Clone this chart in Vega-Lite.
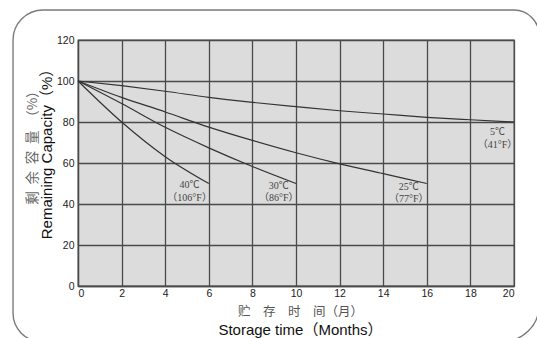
{
  "$schema": "https://vega.github.io/schema/vega-lite/v6.json",
  "width": 436,
  "height": 246,
  "autosize": {"type": "none"},
  "padding": {"left": 78, "top": 40, "right": 23, "bottom": 52},
  "background": "#ffffff",
  "config": {
    "view": {"fill": "#dcdcdc", "stroke": "#555555", "strokeWidth": 1.3},
    "axis": {"gridColor": "#4a4a4a", "gridWidth": 1.3, "gridOpacity": 1, "domainColor": "#4a4a4a", "domainWidth": 1.3, "tickSize": 0, "labelFont": "Liberation Sans", "labelFontSize": 10.5, "labelColor": "#222222", "titleFontWeight": "normal"}
  },
  "datasets": {
    "frame": [{"name": "frame"}],
    "curves": [
      {"series": "5℃", "month": 0, "capacity": 100},
      {"series": "5℃", "month": 2, "capacity": 97.7},
      {"series": "5℃", "month": 4, "capacity": 95.0},
      {"series": "5℃", "month": 6, "capacity": 92.0},
      {"series": "5℃", "month": 8, "capacity": 89.6},
      {"series": "5℃", "month": 10, "capacity": 87.5},
      {"series": "5℃", "month": 12, "capacity": 85.5},
      {"series": "5℃", "month": 14, "capacity": 83.9},
      {"series": "5℃", "month": 16, "capacity": 82.3},
      {"series": "5℃", "month": 18, "capacity": 81.1},
      {"series": "5℃", "month": 20, "capacity": 80.0},
      {"series": "25℃", "month": 0, "capacity": 100},
      {"series": "25℃", "month": 2, "capacity": 92.0},
      {"series": "25℃", "month": 4, "capacity": 84.9},
      {"series": "25℃", "month": 6, "capacity": 77.5},
      {"series": "25℃", "month": 8, "capacity": 71.0},
      {"series": "25℃", "month": 10, "capacity": 65.0},
      {"series": "25℃", "month": 12, "capacity": 59.6},
      {"series": "25℃", "month": 14, "capacity": 54.8},
      {"series": "25℃", "month": 16, "capacity": 50.0},
      {"series": "30℃", "month": 0, "capacity": 100},
      {"series": "30℃", "month": 2, "capacity": 89.0},
      {"series": "30℃", "month": 4, "capacity": 77.4},
      {"series": "30℃", "month": 6, "capacity": 67.4},
      {"series": "30℃", "month": 8, "capacity": 58.3},
      {"series": "30℃", "month": 10, "capacity": 50.0},
      {"series": "40℃", "month": 0, "capacity": 100},
      {"series": "40℃", "month": 2, "capacity": 80.0},
      {"series": "40℃", "month": 4, "capacity": 63.1},
      {"series": "40℃", "month": 6, "capacity": 50.0}
    ],
    "labels": [
      {"series": "40℃", "text": "40℃\n（106°F）", "month": 5.12, "capacity": 49.1},
      {"series": "30℃", "text": "30℃\n（86°F）", "month": 9.21, "capacity": 49.0},
      {"series": "25℃", "text": "25℃\n（77°F）", "month": 15.17, "capacity": 48.4},
      {"series": "5℃", "text": "5℃\n（41°F）", "month": 19.24, "capacity": 75.0}
    ]
  },
  "layer": [
    {
      "data": {"name": "frame"},
      "mark": {"type": "rect", "fill": "transparent", "stroke": "#7a7a7a", "strokeWidth": 1.4, "cornerRadiusTopLeft": 30, "cornerRadiusTopRight": 25, "cornerRadiusBottomRight": 36, "cornerRadiusBottomLeft": 28, "clip": false},
      "encoding": {
        "x": {"datum": -2.98, "type": "quantitative", "scale": {"domain": [0, 20], "nice": false}, "axis": null},
        "x2": {"datum": 21.15},
        "y": {"datum": 134.6, "type": "quantitative", "scale": {"domain": [0, 120], "nice": false}, "axis": null},
        "y2": {"datum": -27}
      }
    },
    {
      "data": {"name": "curves"},
      "mark": {"type": "line", "interpolate": "monotone", "color": "#333333", "strokeWidth": 1.2},
      "encoding": {
        "x": {
          "field": "month", "type": "quantitative",
          "scale": {"domain": [0, 20], "nice": false},
          "axis": {"values": [0, 2, 4, 6, 8, 10, 12, 14, 16, 18, 20], "orient": "bottom", "grid": true, "labelPadding": 2,
            "title": "贮\u2003存\u2003时\u2003间（月）", "titleFont": "Noto Sans CJK SC", "titleFontSize": 12.5, "titleColor": "#555555", "titlePadding": 7, "titleX": 222}
        },
        "y": {
          "field": "capacity", "type": "quantitative",
          "scale": {"domain": [0, 120], "nice": false},
          "axis": {"values": [0, 20, 40, 60, 80, 100, 120], "orient": "left", "grid": true, "labelPadding": 4,
            "title": "Remaining Capacity（%）", "titleFont": "Liberation Sans, Noto Sans CJK SC", "titleFontSize": 15, "titleColor": "#111111", "titlePadding": 2, "titleY": 110}
        },
        "detail": {"field": "series"}
      }
    },
    {
      "data": {"name": "labels"},
      "mark": {"type": "text", "lineBreak": "\n", "align": "center", "baseline": "middle", "font": "Liberation Serif, Noto Sans CJK SC", "fontSize": 10, "lineHeight": 12.5, "color": "#444444"},
      "encoding": {
        "x": {
          "field": "month", "type": "quantitative",
          "scale": {"domain": [0, 20], "nice": false},
          "axis": {"orient": "bottom", "labels": false, "ticks": false, "domain": false, "grid": false,
            "title": "Storage time（Months）", "titleFont": "Liberation Sans, Noto Sans CJK SC", "titleFontSize": 15, "titleColor": "#111111", "titlePadding": 36, "titleX": 222}
        },
        "y": {
          "field": "capacity", "type": "quantitative",
          "scale": {"domain": [0, 120], "nice": false},
          "axis": {"orient": "left", "labels": false, "ticks": false, "domain": false, "grid": false,
            "title": "剩\u2002余\u2002容\u2002量\u2002（%）", "titleFont": "Noto Sans CJK SC", "titleFontSize": 13.5, "titleColor": "#666666", "titlePadding": 39, "titleY": 104}
        },
        "text": {"field": "text"}
      }
    }
  ],
  "resolve": {"axis": {"x": "independent", "y": "independent"}}
}
